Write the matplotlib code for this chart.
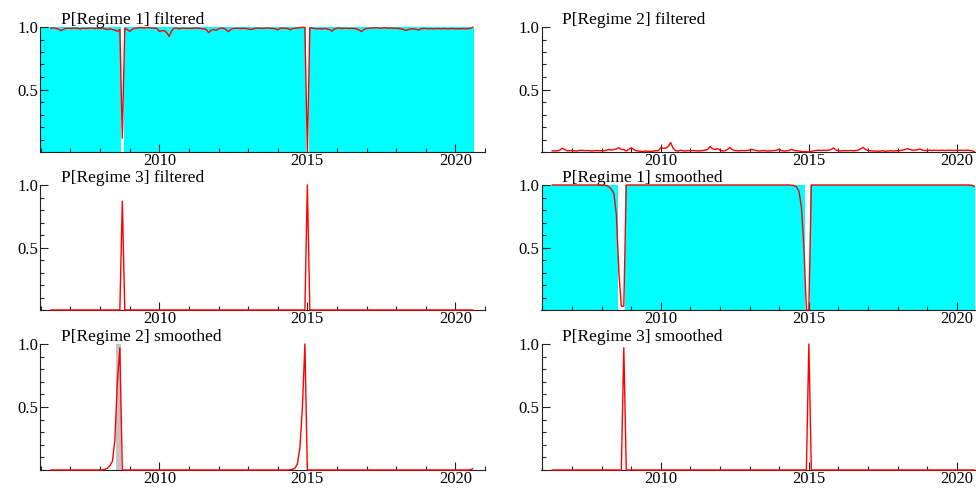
"""Markov-switching regime probabilities, filtered and smoothed (OxMetrics style)."""

import numpy as np
import pandas as pd
import matplotlib
matplotlib.use("Agg")
import matplotlib.pyplot as plt
from matplotlib.ticker import MultipleLocator, FixedLocator

plt.rcParams["font.family"] = ["Liberation Serif", "DejaVu Serif"]
plt.rcParams["font.size"] = 12.5

# --- Data: monthly, 2006-05 .. 2020-08 (one row per year) ------------------
start_month, end_month = "2006-05", "2020-08"

p1_filt = [
    0.99, 0.992, 0.99, 0.985, 0.97, 0.98, 0.99, 0.99,                      # 2006
    0.988, 0.99, 0.992, 0.988, 0.985, 0.99, 0.988, 0.99, 0.992, 0.99, 0.988, 0.99,
    0.99, 0.99, 0.985, 0.98, 0.985, 0.98, 0.975, 0.965, 0.98, 0.11, 0.99, 0.98,
    0.965, 0.98, 0.99, 0.992, 0.995, 0.995, 0.992, 0.995, 0.995, 0.992, 0.99, 0.99,
    0.965, 0.97, 0.97, 0.955, 0.925, 0.97, 0.99, 0.992, 0.985, 0.99, 0.992, 0.988,
    0.99, 0.988, 0.99, 0.992, 0.99, 0.988, 0.985, 0.98, 0.955, 0.975, 0.98, 0.973,
    0.985, 0.992, 0.99, 0.98, 0.963, 0.982, 0.988, 0.99, 0.99, 0.988, 0.99, 0.988,
    0.985, 0.98, 0.985, 0.99, 0.992, 0.99, 0.988, 0.992, 0.992, 0.99, 0.988, 0.985,
    0.978, 0.99, 0.992, 0.99, 0.988, 0.978, 0.988, 0.99, 0.992, 0.995, 0.997, 0.997,
    0.0, 0.995, 0.99, 0.988, 0.985, 0.988, 0.985, 0.988, 0.985, 0.98, 0.967, 0.985,
    0.99, 0.992, 0.988, 0.99, 0.99, 0.988, 0.99, 0.988, 0.985, 0.975, 0.963, 0.98,
    0.988, 0.99, 0.992, 0.992, 0.994, 0.992, 0.99, 0.994, 0.992, 0.99, 0.992, 0.99,
    0.99, 0.988, 0.985, 0.98, 0.973, 0.98, 0.985, 0.985, 0.982, 0.976, 0.985, 0.988,
    0.988, 0.985, 0.988, 0.985, 0.987, 0.988, 0.985, 0.988, 0.987, 0.985, 0.987, 0.988,
    0.985, 0.987, 0.985, 0.988, 0.985, 0.987, 0.99, 0.997,                 # 2020
]

p2_filt = [
    0.01, 0.008, 0.01, 0.015, 0.03, 0.02, 0.01, 0.01,
    0.012, 0.01, 0.008, 0.012, 0.015, 0.01, 0.012, 0.01, 0.008, 0.01, 0.012, 0.01,
    0.01, 0.01, 0.015, 0.02, 0.015, 0.02, 0.025, 0.035, 0.02, 0.02, 0.008, 0.02,
    0.035, 0.02, 0.01, 0.008, 0.005, 0.005, 0.008, 0.005, 0.005, 0.008, 0.01, 0.01,
    0.035, 0.03, 0.03, 0.045, 0.075, 0.03, 0.01, 0.008, 0.015, 0.01, 0.008, 0.012,
    0.01, 0.012, 0.01, 0.008, 0.01, 0.012, 0.015, 0.02, 0.045, 0.025, 0.02, 0.027,
    0.015, 0.008, 0.01, 0.02, 0.037, 0.018, 0.012, 0.01, 0.01, 0.012, 0.01, 0.012,
    0.015, 0.02, 0.015, 0.01, 0.008, 0.01, 0.012, 0.008, 0.008, 0.01, 0.012, 0.015,
    0.022, 0.01, 0.008, 0.01, 0.012, 0.022, 0.012, 0.01, 0.008, 0.005, 0.003, 0.003,
    0.0, 0.005, 0.01, 0.012, 0.015, 0.012, 0.015, 0.012, 0.015, 0.02, 0.033, 0.015,
    0.01, 0.008, 0.012, 0.01, 0.01, 0.012, 0.01, 0.012, 0.015, 0.025, 0.037, 0.02,
    0.012, 0.01, 0.008, 0.008, 0.006, 0.008, 0.01, 0.006, 0.008, 0.01, 0.008, 0.01,
    0.01, 0.012, 0.015, 0.02, 0.027, 0.02, 0.015, 0.015, 0.018, 0.024, 0.015, 0.012,
    0.012, 0.015, 0.012, 0.015, 0.013, 0.012, 0.015, 0.012, 0.013, 0.015, 0.013, 0.012,
    0.015, 0.013, 0.015, 0.012, 0.015, 0.013, 0.01, 0.003,
]

p3_filt = [
    0, 0, 0, 0, 0, 0, 0, 0,
    0, 0, 0, 0, 0, 0, 0, 0, 0, 0, 0, 0,
    0, 0, 0, 0, 0, 0, 0, 0, 0, 0.87, 0, 0,
    0, 0, 0, 0, 0, 0, 0, 0, 0, 0, 0, 0,
    0, 0, 0, 0, 0, 0, 0, 0, 0, 0, 0, 0,
    0, 0, 0, 0, 0, 0, 0, 0, 0, 0, 0, 0,
    0, 0, 0, 0, 0, 0, 0, 0, 0, 0, 0, 0,
    0, 0, 0, 0, 0, 0, 0, 0, 0, 0, 0, 0,
    0, 0, 0, 0, 0, 0, 0, 0, 0, 0, 0, 0,
    1.0, 0, 0, 0, 0, 0, 0, 0, 0, 0, 0, 0,
    0, 0, 0, 0, 0, 0, 0, 0, 0, 0, 0, 0,
    0, 0, 0, 0, 0, 0, 0, 0, 0, 0, 0, 0,
    0, 0, 0, 0, 0, 0, 0, 0, 0, 0, 0, 0,
    0, 0, 0, 0, 0, 0, 0, 0, 0, 0, 0, 0,
    0, 0, 0, 0, 0, 0, 0, 0,
]

p1_smth = [
    1, 1, 1, 1, 1, 1, 1, 1,
    1, 1, 1, 1, 1, 1, 1, 1, 1, 1, 1, 1,
    1, 0.998, 0.995, 0.985, 0.965, 0.93, 0.76, 0.3, 0.03, 0.03, 1, 1,
    1, 1, 1, 1, 1, 1, 1, 1, 1, 1, 1, 1,
    1, 1, 1, 1, 1, 1, 1, 1, 1, 1, 1, 1,
    1, 1, 1, 1, 1, 1, 1, 1, 1, 1, 1, 1,
    1, 1, 1, 1, 1, 1, 1, 1, 1, 1, 1, 1,
    1, 1, 1, 1, 1, 1, 1, 1, 1, 1, 1, 1,
    1, 1, 1, 1, 1, 0.998, 0.995, 0.985, 0.95, 0.82, 0.5, 0.0,
    0.0, 1, 1, 1, 1, 1, 1, 1, 1, 1, 1, 1,
    1, 1, 1, 1, 1, 1, 1, 1, 1, 1, 1, 1,
    1, 1, 1, 1, 1, 1, 1, 1, 1, 1, 1, 1,
    1, 1, 1, 1, 1, 1, 1, 1, 1, 1, 1, 1,
    1, 1, 1, 1, 1, 1, 1, 1, 1, 1, 1, 1,
    1, 1, 1, 1, 1, 1, 0.998, 0.99,
]

p2_smth = [
    0, 0, 0, 0, 0, 0, 0, 0,
    0, 0, 0, 0, 0, 0, 0, 0, 0, 0, 0, 0,
    0, 0.002, 0.005, 0.015, 0.035, 0.07, 0.24, 0.7, 0.97, 0, 0, 0,
    0, 0, 0, 0, 0, 0, 0, 0, 0, 0, 0, 0,
    0, 0, 0, 0, 0, 0, 0, 0, 0, 0, 0, 0,
    0, 0, 0, 0, 0, 0, 0, 0, 0, 0, 0, 0,
    0, 0, 0, 0, 0, 0, 0, 0, 0, 0, 0, 0,
    0, 0, 0, 0, 0, 0, 0, 0, 0, 0, 0, 0,
    0, 0, 0, 0, 0, 0.002, 0.005, 0.015, 0.05, 0.18, 0.5, 1.0,
    0, 0, 0, 0, 0, 0, 0, 0, 0, 0, 0, 0,
    0, 0, 0, 0, 0, 0, 0, 0, 0, 0, 0, 0,
    0, 0, 0, 0, 0, 0, 0, 0, 0, 0, 0, 0,
    0, 0, 0, 0, 0, 0, 0, 0, 0, 0, 0, 0,
    0, 0, 0, 0, 0, 0, 0, 0, 0, 0, 0, 0,
    0, 0, 0, 0, 0, 0, 0.002, 0.01,
]

p3_smth = [
    0, 0, 0, 0, 0, 0, 0, 0,
    0, 0, 0, 0, 0, 0, 0, 0, 0, 0, 0, 0,
    0, 0, 0, 0, 0, 0, 0, 0, 0, 0.97, 0, 0,
    0, 0, 0, 0, 0, 0, 0, 0, 0, 0, 0, 0,
    0, 0, 0, 0, 0, 0, 0, 0, 0, 0, 0, 0,
    0, 0, 0, 0, 0, 0, 0, 0, 0, 0, 0, 0,
    0, 0, 0, 0, 0, 0, 0, 0, 0, 0, 0, 0,
    0, 0, 0, 0, 0, 0, 0, 0, 0, 0, 0, 0,
    0, 0, 0, 0, 0, 0, 0, 0, 0, 0, 0, 0,
    1.0, 0, 0, 0, 0, 0, 0, 0, 0, 0, 0, 0,
    0, 0, 0, 0, 0, 0, 0, 0, 0, 0, 0, 0,
    0, 0, 0, 0, 0, 0, 0, 0, 0, 0, 0, 0,
    0, 0, 0, 0, 0, 0, 0, 0, 0, 0, 0, 0,
    0, 0, 0, 0, 0, 0, 0, 0, 0, 0, 0, 0,
    0, 0, 0, 0, 0, 0, 0, 0,
]

# regime classification periods (shaded), first..last month inclusive
r1_filt_spans = [("2006-01", "2008-09"), ("2008-11", "2014-12"), ("2015-02", "2020-08")]
r1_smth_spans = [("2006-01", "2008-07"), ("2008-11", "2014-11"), ("2015-02", "2020-08")]
r2_smth_spans = [("2008-08", "2008-09")]

titles = [
    "P[Regime 1] filtered", "P[Regime 2] filtered",
    "P[Regime 3] filtered", "P[Regime 1] smoothed",
    "P[Regime 2] smoothed", "P[Regime 3] smoothed",
]


def decimal_year(label):
    p = pd.Period(label, freq="M")
    return p.year + (p.month - 1) / 12.0


months = pd.period_range(start_month, end_month, freq="M")
t = np.asarray(months.year + (months.month - 1) / 12.0, dtype=float)

# --- Layout (pixel-matched) ------------------------------------------------
W, H = 976, 488
fig = plt.figure(figsize=(W / 100, H / 100), dpi=100)

col_left = [40 / W, 541.5 / W]
col_w = 445 / W
rows = [(27, 152), (185, 310), (344, 470)]

axes = []
for top, bot in rows:
    for cl in col_left:
        ax = fig.add_axes([cl, 1 - bot / H, col_w, (bot - top) / H])
        axes.append(ax)

series = [p1_filt, p2_filt, p3_filt, p1_smth, p2_smth, p3_smth]
spans = {0: (r1_filt_spans, "#00ffff"), 3: (r1_smth_spans, "#00ffff"),
         4: (r2_smth_spans, "#c4c4c4")}

for k, ax in enumerate(axes):
    if k in spans:
        sp, col = spans[k]
        for a, b in sp:
            ax.axvspan(decimal_year(a) - 1 / 24, decimal_year(b) + 1 / 24,
                       color=col, lw=0, zorder=0)
    ax.plot(t, series[k], color="#ff0000", lw=1.0, zorder=4, clip_on=False)

    ax.set_xlim(2005.97, 2021.0)
    ax.set_ylim(0, 1)
    ax.xaxis.set_major_locator(MultipleLocator(5))
    ax.xaxis.set_minor_locator(MultipleLocator(1))
    ax.yaxis.set_major_locator(FixedLocator([0.5, 1.0]))
    ax.yaxis.set_minor_locator(MultipleLocator(0.1))
    ax.tick_params(which="both", direction="in", color="#222222", width=0.8,
                   labelsize=12, pad=1.5)
    ax.tick_params(axis="x", which="both", pad=1)
    ax.tick_params(which="major", length=5.5)
    ax.tick_params(which="minor", length=3)
    for s in ("top", "right"):
        ax.spines[s].set_visible(False)
    for s in ("left", "bottom"):
        ax.spines[s].set_linewidth(0.8)
        ax.spines[s].set_color("#222222")
        ax.spines[s].set_zorder(3)
    ax.text(0.047, 1.02, titles[k], transform=ax.transAxes, fontsize=12.5,
            ha="left", va="baseline")

fig.savefig("out.png", dpi=100)
